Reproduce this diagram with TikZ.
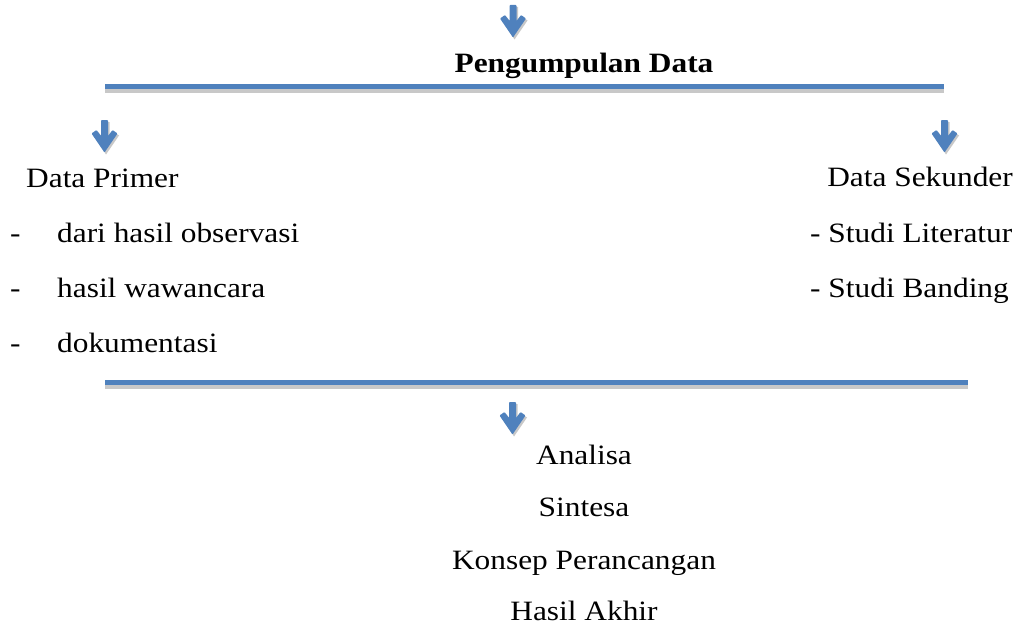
\documentclass[tikz,border=0pt]{standalone}
\usepackage{fontspec}
\setmainfont{Liberation Serif}
\definecolor{barblue}{RGB}{79,129,189}
\definecolor{shadowgray}{RGB}{200,200,200}
\newcommand\wide[1]{\scalebox{1.12}[1]{#1}}
\tikzset{
  txt/.style={inner sep=0pt, font=\fontsize{28}{32}\selectfont},
  pics/downarrow/.style={code={
    \fill[shadowgray] (-1.5,2) -- (5,2) -- (5,18) -- (9.5,12) -- (14.5,15.5) -- (1.5,34.5) -- (-11,15.5) -- (-6.5,12) -- (-1.5,18) -- cycle;
    \fill[barblue, rounded corners=0.8pt] (-3.5,0) -- (3.5,0) -- (3.5,16) -- (8,10) -- (13,13.5) -- (0,32.5) -- (-13,13.5) -- (-8,10) -- (-3.5,16) -- cycle;
  }}
}
\begin{document}
\begin{tikzpicture}[x=1pt,y=-1pt]
\useasboundingbox (0,0) rectangle (1019,634);
% arrows
\pic at (513,5) {downarrow};
\pic at (104.5,120) {downarrow};
\pic at (944.5,120) {downarrow};
\pic at (512.5,402) {downarrow};
% bars
\fill[shadowgray] (105,89) rectangle (944,93);
\fill[barblue] (105,84) rectangle (944,89);
\fill[shadowgray] (105,385) rectangle (968,389);
\fill[barblue] (105,380) rectangle (968,385);
% title
\node[txt, anchor=base] (title) at (584,73) {\wide{\bfseries Pengumpulan Data}};
% left
\node[txt, anchor=base west] (prim) at (26,187) {\wide{Data Primer}};
\node[txt, anchor=base west] (d1) at (10,242) {\wide{-}};
\node[txt, anchor=base west] (d2) at (10,297) {\wide{-}};
\node[txt, anchor=base west] (d3) at (10,352) {\wide{-}};
\node[txt, anchor=base west] (p1) at (57,242) {\wide{dari hasil observasi}};
\node[txt, anchor=base west] (p2) at (57,297) {\wide{hasil wawancara}};
\node[txt, anchor=base west] (p3) at (57,352) {\wide{dokumentasi}};
% right
\node[txt, anchor=base east] (sek) at (1013,186) {\wide{Data Sekunder}};
\node[txt, anchor=base west] (s1) at (810,242) {\wide{- Studi Literatur}};
\node[txt, anchor=base west] (s2) at (810,297) {\wide{- Studi Banding}};
% bottom
\node[txt, anchor=base] (a1) at (584,464) {\wide{Analisa}};
\node[txt, anchor=base] (a2) at (584,516) {\wide{Sintesa}};
\node[txt, anchor=base] (a3) at (584,569) {\wide{Konsep Perancangan}};
\node[txt, anchor=base] (a4) at (584,620) {\wide{Hasil Akhir}};
\end{tikzpicture}
\end{document}
